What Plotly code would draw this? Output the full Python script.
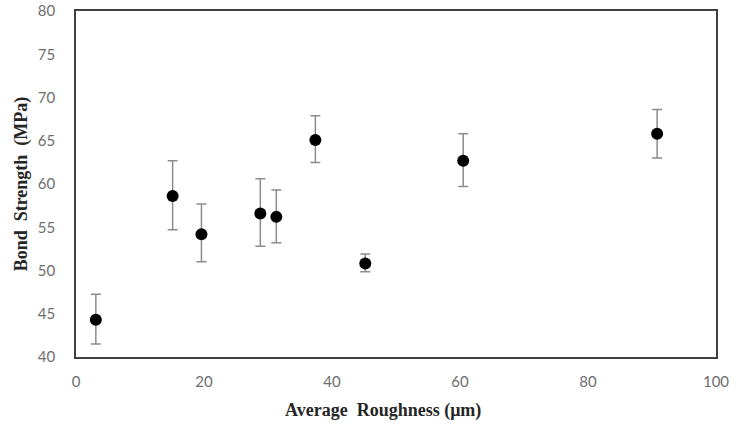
import plotly.graph_objects as go

roughness = [3.1, 15.1, 19.6, 28.8, 31.3, 37.4, 45.2, 60.5, 90.8]
strength = [44.3, 58.6, 54.2, 56.6, 56.2, 65.1, 50.8, 62.7, 65.8]
err_plus = [2.95, 4.1, 3.5, 4.0, 3.1, 2.8, 1.1, 3.1, 2.8]
err_minus = [2.8, 3.9, 3.2, 3.8, 3.0, 2.6, 0.95, 3.0, 2.8]

fig = go.Figure(go.Scatter(
    x=roughness, y=strength, mode="markers",
    marker=dict(color="black", size=12),
    error_y=dict(type="data", symmetric=False, array=err_plus, arrayminus=err_minus,
                 color="#8c8c8c", thickness=1.5, width=5),
    showlegend=False,
))

fig.update_layout(
    width=736, height=431,
    margin=dict(l=76, r=20, t=11, b=74),
    paper_bgcolor="white", plot_bgcolor="white",
    xaxis=dict(range=[0, 100], dtick=20, showgrid=False, zeroline=False, automargin=False,
               showline=True, linecolor="#404040", linewidth=1.5, mirror=True,
               ticks="", tickfont=dict(family="Lato", size=15, color="#6e6e6e"),
               ticklabelstandoff=10),
    yaxis=dict(range=[40, 80], dtick=5, showgrid=False, zeroline=False, automargin=False,
               showline=True, linecolor="#404040", linewidth=1.5, mirror=True,
               ticks="", tickfont=dict(family="Lato", size=15, color="#6e6e6e"),
               ticklabelstandoff=16,
               title=dict(text="<b>Bond  Strength  (MPa)</b>", standoff=6,
                          font=dict(family="Liberation Serif", size=18, color="#262626"))),
    annotations=[dict(text="<b>Average  Roughness (μm)</b>", xref="paper", yref="paper",
                      x=0.48, y=-0.155, xanchor="center", yanchor="middle", showarrow=False,
                      font=dict(family="Liberation Serif", size=18, color="#262626"))],
)

fig.write_html("out.html")
